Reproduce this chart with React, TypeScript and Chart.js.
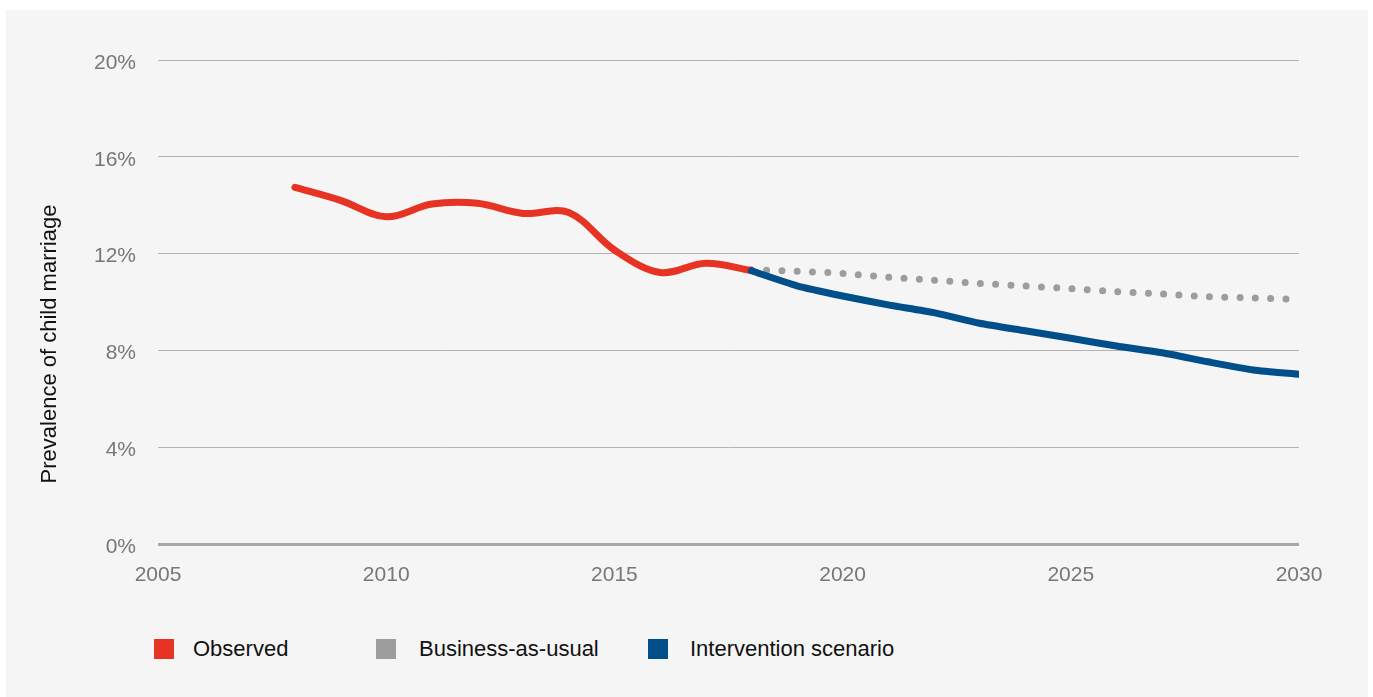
import React, { useEffect, useRef } from "react";
import { Chart, registerables } from "chart.js";

Chart.register(...registerables);

const observedYears = [2008, 2009, 2010, 2011, 2012, 2013, 2014, 2015, 2016, 2017, 2018];
const observedValues = [14.74, 14.2, 13.52, 14.05, 14.08, 13.66, 13.7, 12.15, 11.22, 11.6, 11.3];

const projectionYears = [2018, 2019, 2020, 2021, 2022, 2023, 2024, 2025, 2026, 2027, 2028, 2029, 2030];
const businessAsUsual = [11.33, 11.27, 11.18, 11.02, 10.9, 10.77, 10.66, 10.55, 10.43, 10.33, 10.22, 10.17, 10.1];
const intervention = [11.29, 10.67, 10.25, 9.88, 9.56, 9.12, 8.81, 8.5, 8.18, 7.9, 7.53, 7.19, 7.01];

const seriesLabels = ["Observed", "Business-as-usual", "Intervention scenario"];
const seriesColors = ["#e63323", "#9d9d9d", "#004f8b"];

const yAxisTitle = "Prevalence of child marriage";

const FONT = "'Liberation Sans', Arial, Helvetica, sans-serif";

const legendBoxLeft = [148, 370, 642];
const legendTextLeft = [187, 413, 684];

const yTitlePlugin = {
  id: "yTitle",
  afterDraw(chart: any) {
    const ctx = chart.ctx;
    ctx.save();
    ctx.translate(44, 334);
    ctx.rotate(-Math.PI / 2);
    ctx.font = `22px ${FONT}`;
    ctx.fillStyle = "#111111";
    ctx.textAlign = "center";
    ctx.textBaseline = "middle";
    ctx.fillText(yAxisTitle, 0, 0);
    ctx.restore();
  },
};

export default function App() {
  const canvasRef = useRef<HTMLCanvasElement | null>(null);

  useEffect(() => {
    if (!canvasRef.current) return;
    const toPts = (xs: number[], ys: number[]) => xs.map((x, i) => ({ x, y: ys[i] }));
    const chart = new Chart(canvasRef.current, {
      type: "line",
      data: {
        datasets: [
          {
            label: seriesLabels[0],
            data: toPts(observedYears, observedValues),
            borderColor: seriesColors[0],
            backgroundColor: seriesColors[0],
            borderWidth: 7,
            borderCapStyle: "round",
            borderJoinStyle: "round",
            pointRadius: 0,
            tension: 0.35,
            order: 2,
          },
          {
            label: seriesLabels[1],
            data: toPts(projectionYears, businessAsUsual),
            borderColor: seriesColors[1],
            backgroundColor: seriesColors[1],
            borderWidth: 7,
            borderCapStyle: "round",
            borderDash: [0, 15.3],
            pointRadius: 0,
            tension: 0.3,
            order: 3,
          },
          {
            label: seriesLabels[2],
            data: toPts(projectionYears, intervention),
            borderColor: seriesColors[2],
            backgroundColor: seriesColors[2],
            borderWidth: 7,
            borderCapStyle: "round",
            borderJoinStyle: "round",
            pointRadius: 0,
            tension: 0.2,
            order: 1,
          },
        ],
      },
      options: {
        responsive: false,
        animation: false,
        layout: { padding: { top: 50, right: 69, bottom: 0, left: 0 } },
        plugins: {
          legend: { display: false },
          tooltip: { enabled: false },
        },
        scales: {
          x: {
            type: "linear",
            min: 2005,
            max: 2030,
            border: { display: false },
            grid: { display: false, drawTicks: false },
            ticks: {
              stepSize: 5,
              padding: 19,
              color: "#777777",
              font: { family: FONT, size: 21, lineHeight: 1.2 },
              callback: (v: any) => String(v),
              maxRotation: 0,
            },
            afterFit: (s: any) => {
              s.height = 66;
            },
          },
          y: {
            min: 0,
            max: 20,
            border: { display: false },
            grid: {
              drawTicks: false,
              color: (ctx: any) => (ctx.tick && ctx.tick.value === 0 ? "#a9a9a9" : "#b3b3b3"),
              lineWidth: (ctx: any) => (ctx.tick && ctx.tick.value === 0 ? 3 : 1),
            },
            ticks: {
              stepSize: 4,
              padding: 22,
              labelOffset: 3,
              color: "#777777",
              font: { family: FONT, size: 21, lineHeight: 1.2 },
              callback: (v: any) => v + "%",
            },
            afterFit: (s: any) => {
              s.width = 152;
            },
          },
        },
      },
      plugins: [yTitlePlugin],
    });
    return () => chart.destroy();
  }, []);

  return (
    <div
      style={{
        position: "absolute",
        left: 6,
        top: 10,
        width: 1362,
        height: 687,
        background: "#f5f5f5",
        overflow: "hidden",
      }}
    >
      <canvas
        ref={canvasRef}
        width={1362}
        height={600}
        style={{ position: "absolute", left: 0, top: 0, width: 1362, height: 600 }}
      />
      {seriesLabels.map((label, i) => (
        <React.Fragment key={label}>
          <div
            style={{
              position: "absolute",
              left: legendBoxLeft[i],
              top: 629,
              width: 20,
              height: 20,
              background: seriesColors[i],
            }}
          />
          <div
            style={{
              position: "absolute",
              left: legendTextLeft[i],
              top: 626,
              lineHeight: "26px",
              fontFamily: FONT,
              fontSize: 22,
              color: "#111111",
              whiteSpace: "nowrap",
            }}
          >
            {label}
          </div>
        </React.Fragment>
      ))}
    </div>
  );
}
